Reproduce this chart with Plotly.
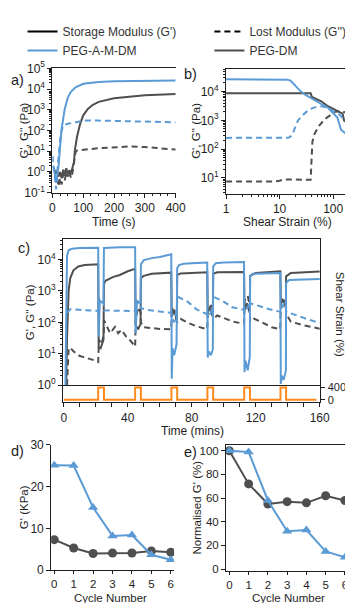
# ================================================================
# 0. Section: IMPORTS
# ================================================================
import plotly.graph_objects as go


# ================================================================
# 1. Section: DATA
# ================================================================
LEGEND_NAMES = ["Storage Modulus (G')", "Lost Modulus (G'')", "PEG-A-M-DM", "PEG-DM"]

# --- a) time sweep (s, Pa) ---
A_T_AMDM_GP = [0, 5, 12, 20, 25, 30, 40, 50, 60, 75, 100, 150, 200, 300, 400]
A_AMDM_GP = [2.0, 1.5, 0.3, 2.0, 17, 125, 1100, 3900, 7400, 12000, 18000, 22000, 23500, 25000, 26000]
A_T_AMDM_GPP = [0, 4, 12, 18, 22, 27, 35, 50, 80, 110, 150, 250, 400]
A_AMDM_GPP = [6, 2, 0.15, 2.8, 17, 72, 180, 210, 260, 300, 300, 280, 250]
A_T_DM_GP = [5, 10, 15, 20, 25, 30, 35, 40, 45, 50, 55, 60, 65, 70, 73, 80, 90, 100, 115, 130, 150, 200, 250, 300, 400]
A_DM_GP = [1.5, 0.8, 1.2, 0.6, 1.0, 0.5, 1.3, 0.7, 1.5, 0.8, 1.2, 0.9, 1.6, 3, 12, 51, 210, 540, 1100, 1700, 2400, 3600, 4300, 5000, 5700]
A_T_DM_GPP = [15, 20, 25, 30, 35, 40, 45, 50, 55, 60, 65, 70, 75, 80, 100, 150, 250, 300, 400]
A_DM_GPP = [0.5, 0.2, 0.5, 0.25, 0.8, 0.4, 1.0, 0.6, 1.1, 0.5, 0.9, 2.5, 9, 11, 12, 14, 17, 16, 12]

# --- b) strain sweep (%, Pa) ---
B_S_AMDM_GP = [1, 5, 10, 14, 16, 18, 21, 25, 30, 40, 60, 80, 100, 120, 140, 170, 200]
B_AMDM_GP = [27000, 27000, 26500, 26000, 24000, 19000, 14000, 10000, 7800, 5600, 3700, 2750, 1850, 1250, 470, 340, 275]
B_S_AMDM_GPP = [1, 5, 10, 15, 17, 19, 22, 26, 32, 40, 50, 60, 80, 100, 130, 160, 200]
B_AMDM_GPP = [245, 245, 245, 250, 300, 500, 980, 1400, 2000, 2600, 3000, 3100, 2750, 2100, 1600, 1100, 660]
B_S_DM_GP = [1, 10, 38, 40, 45, 60, 80, 100, 120, 150, 160, 200]
B_DM_GP = [8700, 8700, 8700, 6500, 5900, 4600, 3100, 2500, 2100, 1700, 980, 740]
B_S_DM_GPP = [1, 8, 10, 12, 20, 38, 40, 41, 45, 55, 70, 90, 110, 140, 170, 200]
B_DM_GPP = [7.4, 7.4, 7.9, 8.7, 8.7, 8.5, 72, 180, 340, 660, 1100, 1600, 2000, 2100, 1900, 1400]

# --- c) step strain recovery (mins, Pa) ---
C_T_AMDM_GP = [1.0, 1.5, 2.0, 3.0, 5.0, 10, 15, 21.5,
               21.8, 22.5, 24.0, 24.8,
               25.1, 30, 35, 40, 44.6,
               44.9, 45.8, 47.5, 48.0,
               48.2, 50, 55, 60, 67.2,
               67.5, 68.0, 69, 70.5,
               70.9, 72, 75, 80, 89.7,
               90.0, 90.6, 92, 93.2,
               93.4, 95, 100, 112.7,
               113.0, 113.6, 115, 116.3,
               116.5, 118, 125, 135.4,
               135.7, 136.3, 137.5, 138.9,
               139.0, 141, 150, 160]
C_AMDM_GP = [1, 30, 13000, 19500, 22000, 23000, 23500, 23500,
             35, 500, 420, 450,
             23000, 24000, 24500, 24500, 24500,
             45, 480, 400, 400,
             7000, 9500, 11000, 12000, 14500,
             1.6, 15, 9, 20,
             5200, 6600, 7300, 7600, 8000,
             7.6, 12, 9, 14,
             5900, 7600, 8000, 8300,
             2.6, 6, 3, 8,
             2900, 3500, 3600, 3700,
             1.1, 2, 1.5, 3,
             1800, 2200, 2300, 2400]

C_T_DM_GP = [1.5, 2.0, 3.0, 4.0, 6.0, 9.0, 13, 21.5,
             21.8, 23, 24.8,
             25.1, 26, 28, 31, 35, 40, 44.6,
             44.9, 46.5, 48.0,
             48.2, 50, 55, 67.2,
             67.5, 69, 70.7,
             70.9, 73, 80, 89.7,
             90.0, 91.5, 93.2,
             93.4, 96, 105, 112.7,
             113.0, 114.5, 116.3,
             116.5, 120, 128, 135.4,
             135.7, 137, 138.9,
             139.0, 142, 150, 160]
C_DM_GP = [1, 30, 1000, 2500, 4500, 6000, 6600, 7000,
           16, 15, 28,
           1600, 2100, 2400, 2800, 3200, 4200, 5000,
           80, 60, 90,
           2600, 3000, 3500, 3800,
           150, 250, 120,
           3200, 3600, 3800, 3900,
           200, 300, 150,
           3500, 3900, 4000, 4000,
           250, 400, 200,
           3000, 3700, 4000, 4200,
           400, 500, 300,
           2900, 3700, 3900, 4100]

C_T_AMDM_GPP = [2.0, 4, 10, 15, 21.5,
                22, 24, 25,
                25.1, 30, 35, 40, 44.6,
                45, 47, 48.1,
                48.2, 52, 60, 67.2,
                67.5, 69, 70.8,
                70.9, 77, 83, 89.7,
                90, 92, 93.3,
                93.4, 99.5, 105.4, 112.7,
                113, 115, 116.4,
                116.5, 121.5, 127.5, 135.4,
                135.7, 137.5, 138.9,
                139, 145.6, 151.6, 160]
C_AMDM_GPP = [200, 260, 250, 240, 230,
              550, 480, 500,
              240, 235, 235, 230, 230,
              500, 450, 400,
              280, 250, 220, 200,
              150, 100, 300,
              660, 470, 260, 180,
              150, 200, 400,
              660, 470, 300, 250,
              200, 300, 500,
              400, 340, 270, 215,
              200, 400, 600,
              220, 165, 130, 95]

C_T_DM_GPP = [2.0, 3.0, 4.0, 6, 8, 10, 12, 14, 16, 18, 20, 21.5,
              22, 23.5, 25,
              25.1, 26.5, 29, 32, 34, 36, 39, 42, 44.6,
              45, 46.5, 48.1,
              48.2, 50, 55, 60, 67.2,
              67.5, 69, 70.8,
              70.9, 73, 77, 83, 89.7,
              90, 92, 93.3,
              93.4, 96, 100, 106, 112.7,
              113, 115, 116.4,
              116.5, 119, 124, 130, 135.4,
              135.7, 137.5, 138.9,
              139, 142, 150, 160]
C_DM_GPP = [1, 14, 16, 12, 10, 8.5, 8, 7.5, 7, 6.5, 6, 5.5,
            28, 20, 40,
            117, 80, 45, 72, 45, 58, 35, 25, 17,
            130, 300, 200,
            100, 70, 65, 62, 60,
            300, 200, 100,
            100, 130, 100, 75, 60,
            200, 350, 150,
            130, 165, 140, 105, 90,
            500, 700, 300,
            105, 130, 100, 70, 60,
            550, 500, 300,
            185, 105, 80, 63]

C_T_STRAIN = [0, 21.5, 25.1, 44.6, 48.2, 67.3, 70.9, 89.8, 93.4, 112.8, 116.4, 135.5, 139.0, 158]
C_STRAIN = [0, 400, 0, 400, 0, 400, 0, 400, 0, 400, 0, 400, 0, 0]

# --- d) / e) per cycle ---
CYCLES = [0, 1, 2, 3, 4, 5, 6]
D_AMDM_KPA = [25.1, 25.0, 15.0, 8.2, 8.4, 3.7, 2.5]
D_DM_KPA = [7.3, 5.3, 4.0, 4.1, 4.1, 4.6, 4.3]
E_AMDM_PCT = [100, 99, 58, 32, 33, 15, 10]
E_DM_PCT = [100, 72, 55, 57, 56, 62, 58]

LOG_TICKVALS = [0.1, 1, 10, 100, 1000, 10000, 100000]
LOG_TICKTEXT = ["10<sup>-1</sup>", "10<sup>0</sup>", "10<sup>1</sup>", "10<sup>2</sup>",
                "10<sup>3</sup>", "10<sup>4</sup>", "10<sup>5</sup>"]


# ================================================================
# 2. Section: STYLE
# ================================================================
W, H = 353, 603
BLUE = "#5B9BD5"
GRAY = "#4F4F4F"
ORANGE = "#FF8A1C"
INK = "#1E1E1E"
FONT = "Liberation Sans, Arial, sans-serif"
DASH = "6px,4px"

# minor log ticks (2..9 in every decade)
LOG_MINOR_VALS = [m * 10.0 ** k for k in range(-1, 5) for m in range(2, 10)]


def dom_x(left, right):
    return [left / W, right / W]


def dom_y(top, bottom):
    return [1 - bottom / H, 1 - top / H]


AXIS = dict(showline=True, linecolor=INK, linewidth=1, ticks="outside", ticklen=4,
            tickcolor=INK, showgrid=False, zeroline=False,
            tickfont=dict(size=12, color=INK, family=FONT))
LOG_MINOR = dict(ticks="outside", ticklen=2, tickcolor=INK, showgrid=False,
                 tickmode="array", tickvals=LOG_MINOR_VALS)
SMALL_TICKS = dict(size=11.5, color=INK, family=FONT)


def line(fig, x, y, color, xa, ya, dash="solid"):
    fig.add_trace(go.Scatter(x=x, y=y, mode="lines", xaxis=xa, yaxis=ya,
                             line=dict(color=color, width=2, dash=dash),
                             showlegend=False, hoverinfo="skip"))


def text(fig, label, px, py, size=12, angle=0, anchor="center"):
    fig.add_annotation(text=label, x=px / W, y=1 - py / H, xref="paper", yref="paper",
                       showarrow=False, textangle=angle, xanchor=anchor, yanchor="middle",
                       font=dict(size=size, color=INK, family=FONT))


# ================================================================
# 3. Section: MAIN
# ================================================================
fig = go.Figure()

# legend entries: left column in legend, right column in legend2
fig.add_trace(go.Scatter(x=[None], y=[None], mode="lines", name=LEGEND_NAMES[0],
                         line=dict(color="#000000", width=2), legend="legend"))
fig.add_trace(go.Scatter(x=[None], y=[None], mode="lines", name=LEGEND_NAMES[2],
                         line=dict(color=BLUE, width=2), legend="legend"))
fig.add_trace(go.Scatter(x=[None], y=[None], mode="lines", name=LEGEND_NAMES[1],
                         line=dict(color="#000000", width=2, dash=DASH), legend="legend2"))
fig.add_trace(go.Scatter(x=[None], y=[None], mode="lines", name=LEGEND_NAMES[3],
                         line=dict(color=GRAY, width=2), legend="legend2"))

# a)
line(fig, A_T_DM_GPP, A_DM_GPP, GRAY, "x", "y", DASH)
line(fig, A_T_DM_GP, A_DM_GP, GRAY, "x", "y")
line(fig, A_T_AMDM_GPP, A_AMDM_GPP, BLUE, "x", "y", DASH)
line(fig, A_T_AMDM_GP, A_AMDM_GP, BLUE, "x", "y")

# b)
line(fig, B_S_DM_GPP, B_DM_GPP, GRAY, "x2", "y2", DASH)
line(fig, B_S_DM_GP, B_DM_GP, GRAY, "x2", "y2")
line(fig, B_S_AMDM_GPP, B_AMDM_GPP, BLUE, "x2", "y2", DASH)
line(fig, B_S_AMDM_GP, B_AMDM_GP, BLUE, "x2", "y2")

# c)
line(fig, C_T_DM_GPP, C_DM_GPP, GRAY, "x3", "y3", DASH)
line(fig, C_T_DM_GP, C_DM_GP, GRAY, "x3", "y3")
line(fig, C_T_AMDM_GPP, C_AMDM_GPP, BLUE, "x3", "y3", DASH)
line(fig, C_T_AMDM_GP, C_AMDM_GP, BLUE, "x3", "y3")
fig.add_trace(go.Scatter(x=C_T_STRAIN, y=C_STRAIN, mode="lines", xaxis="x4", yaxis="y4",
                         line=dict(color=ORANGE, width=2, shape="hv"),
                         showlegend=False, hoverinfo="skip"))

# d)
fig.add_trace(go.Scatter(x=CYCLES, y=D_DM_KPA, mode="lines+markers", xaxis="x5", yaxis="y5",
                         line=dict(color=GRAY, width=2),
                         marker=dict(symbol="circle", size=9, color=GRAY),
                         showlegend=False, hoverinfo="skip"))
fig.add_trace(go.Scatter(x=CYCLES, y=D_AMDM_KPA, mode="lines+markers", xaxis="x5", yaxis="y5",
                         line=dict(color=BLUE, width=2),
                         marker=dict(symbol="triangle-up", size=9, color=BLUE),
                         showlegend=False, hoverinfo="skip"))

# e)
fig.add_trace(go.Scatter(x=CYCLES, y=E_DM_PCT, mode="lines+markers", xaxis="x6", yaxis="y6",
                         line=dict(color=GRAY, width=2),
                         marker=dict(symbol="circle", size=9, color=GRAY),
                         showlegend=False, hoverinfo="skip"))
fig.add_trace(go.Scatter(x=CYCLES, y=E_AMDM_PCT, mode="lines+markers", xaxis="x6", yaxis="y6",
                         line=dict(color=BLUE, width=2),
                         marker=dict(symbol="triangle-up", size=9, color=BLUE),
                         showlegend=False, hoverinfo="skip"))

legend_style = dict(orientation="v", y=1.0, xanchor="left", yanchor="top",
                    tracegroupgap=0, itemwidth=30,
                    font=dict(size=12, color="#333333", family=FONT),
                    bgcolor="rgba(0,0,0,0)")

fig.update_layout(
    width=W, height=H,
    margin=dict(l=0, r=0, t=0, b=0),
    paper_bgcolor="white", plot_bgcolor="white",
    font=dict(family=FONT, size=12, color=INK),
    showlegend=True,
    legend=dict(legend_style, x=12 / W),
    legend2=dict(legend_style, x=206 / W),
    # a)
    xaxis=dict(AXIS, domain=dom_x(43, 171), anchor="y", range=[0, 400], dtick=100,
               mirror=True, minor=dict(ticks="outside", ticklen=2, dtick=25, tickcolor=INK)),
    yaxis=dict(AXIS, domain=dom_y(52.7, 180.5), anchor="x", type="log", range=[-1, 5],
               tickvals=LOG_TICKVALS, ticktext=LOG_TICKTEXT, minor=LOG_MINOR),
    # b)
    xaxis2=dict(AXIS, domain=dom_x(223.3, 351.7), anchor="y2", type="log", range=[0, 2.31],
                tickvals=[1, 10, 100], ticktext=["1", "10", "100"], mirror=True, minor=LOG_MINOR),
    yaxis2=dict(AXIS, domain=dom_y(53.3, 181.7), anchor="x2", type="log", range=[0.44, 4.79],
                tickvals=LOG_TICKVALS, ticktext=LOG_TICKTEXT, minor=LOG_MINOR),
    # c) main
    xaxis3=dict(AXIS, domain=dom_x(54, 321.3), anchor="y3", range=[-0.5, 160.5],
                showticklabels=False, ticks="", mirror=True),
    yaxis3=dict(AXIS, domain=dom_y(227.7, 378.3), anchor="x3", type="log", range=[0, 4.66],
                tickvals=LOG_TICKVALS, ticktext=LOG_TICKTEXT, minor=LOG_MINOR, mirror=True),
    # c) strain strip
    xaxis4=dict(AXIS, domain=dom_x(54, 321.3), anchor="y4", range=[-0.5, 160.5], dtick=40,
                minor=dict(ticks="outside", ticklen=4, dtick=10, tickcolor=INK)),
    yaxis4=dict(AXIS, domain=dom_y(378.3, 395.7), anchor="x4", side="right", range=[-76, 476],
                tickvals=[0, 400], mirror=True, tickfont=dict(size=11, color=INK, family=FONT)),
    # d)
    xaxis5=dict(AXIS, domain=dom_x(41.7, 169.3), anchor="y5", range=[-0.16, 6.17], dtick=1,
                ticklen=3, tickfont=SMALL_TICKS),
    yaxis5=dict(AXIS, domain=dom_y(439.3, 568.3), anchor="x5", range=[0, 30], dtick=10),
    # e)
    xaxis6=dict(AXIS, domain=dom_x(223.3, 350.7), anchor="y6", range=[-0.17, 6.2], dtick=1,
                ticklen=3, mirror=True, tickfont=SMALL_TICKS),
    yaxis6=dict(AXIS, domain=dom_y(440, 569), anchor="x6", range=[-1.5, 104.6], dtick=20,
                mirror=True, tickfont=SMALL_TICKS),
)

# axis titles
text(fig, "Time (s)", 107, 211)
text(fig, "Shear Strain (%)", 287, 211)
text(fig, "Time (mins)", 188, 425)
text(fig, "Cycle Number", 103, 597, size=11.5)
text(fig, "Cycle Number", 288, 597, size=11.5)
text(fig, "G', G'' (Pa)", 13, 117, size=11.5, angle=-90)
text(fig, "G', G'' (Pa)", 192, 117, size=11.5, angle=-90)
text(fig, "G', G'' (Pa)", 20, 303, size=11.5, angle=-90)
text(fig, "G' (KPa)", 13, 504, size=11.5, angle=-90)
text(fig, "Normalised G' (%)", 193, 504, size=11.5, angle=-90)
text(fig, "Shear Strain (%)", 341.7, 305, size=11.5, angle=90)

# panel labels
for label, px, py in [("a)", 7, 65), ("b)", 186, 59), ("c)", 14, 237), ("d)", 7, 446), ("e)", 186, 447)]:
    text(fig, label, px, py, size=14.5)

fig.write_html("out.html")
